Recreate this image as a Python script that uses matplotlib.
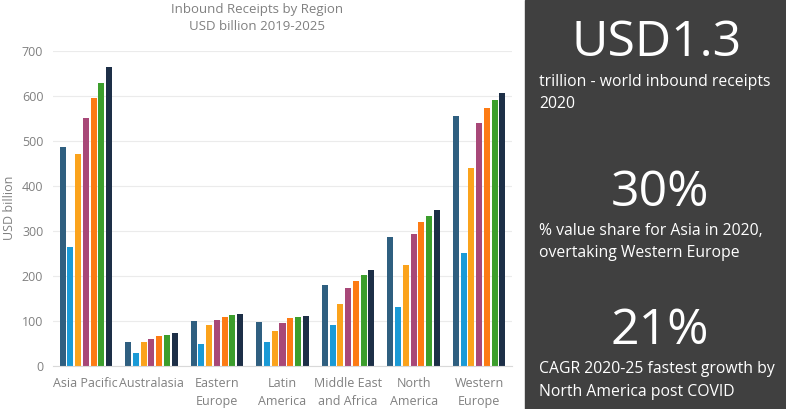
import numpy as np
import matplotlib.pyplot as plt
from matplotlib.patches import Rectangle

plt.rcParams['font.family'] = ['Open Sans', 'DejaVu Sans']

regions = ['Asia Pacific', 'Australasia', 'Eastern\nEurope', 'Latin\nAmerica',
           'Middle East\nand Africa', 'North\nAmerica', 'Western\nEurope']
years = ['2019', '2020', '2021', '2022', '2023', '2024', '2025']

v2019 = [487, 54, 101, 98, 179, 287, 556]
v2020 = [264, 30, 49, 53, 91, 131, 252]
v2021 = [471, 53, 91, 78, 137, 224, 441]
v2022 = [551, 61, 103, 96, 173, 294, 539]
v2023 = [596, 67, 109, 106, 190, 321, 573]
v2024 = [629, 69, 113, 110, 202, 334, 592]
v2025 = [664, 73, 116, 112, 213, 347, 606]
series = [v2019, v2020, v2021, v2022, v2023, v2024, v2025]

colors = ['#2f5f80', '#1a9ad6', '#fba31c', '#a84878', '#fd7b14', '#3c9e2c', '#1d2f47']

W, H = 786, 409
fig = plt.figure(figsize=(W / 100, H / 100), dpi=100)
ax = fig.add_axes([53 / W, 1 - 366 / H, (512 - 53) / W, (366 - 51) / H])

x = np.arange(len(regions))
step = 0.118
bw = 0.092
for i, vals in enumerate(series):
    ax.bar(x + (i - 3) * step, vals, width=bw, color=colors[i], label=years[i])

ax.set_xlim(-0.5, len(regions) - 0.5)
ax.set_ylim(0, 700)
ax.set_yticks(range(0, 701, 100))
ax.grid(axis='y', color='#ebebeb', linewidth=0.8)
ax.set_axisbelow(True)
for s in ['top', 'right', 'left']:
    ax.spines[s].set_visible(False)
ax.spines['bottom'].set_color('#d9d9d9')
ax.tick_params(length=0, colors='#808080', labelsize=9)
ax.tick_params(axis='y', pad=7)
ax.tick_params(axis='x', pad=8)
ax.set_xticks(x)
ax.set_xticklabels(regions, linespacing=1.45)
fig.text(10 / W, 1 - 208 / H, 'USD billion', rotation=90, ha='center', va='center',
         color='#808080', fontsize=9)

fig.text(257 / W, 1 - 9 / H, 'Inbound Receipts by Region', ha='center', va='center',
         color='#808080', fontsize=9.5)
fig.text(257 / W, 1 - 27 / H, 'USD billion 2019-2025', ha='center', va='center',
         color='#808080', fontsize=9.5)

# right-hand panel
fig.patches.append(Rectangle((525 / W, 0), (W - 525) / W, 1, transform=fig.transFigure,
                             color='#404040', zorder=0))

cx = 657 / W
lx = 539 / W
big = 36
small = 11.3
fig.text(cx, 1 - 43 / H, 'USD1.3', ha='center', va='center', color='white', fontsize=big)
fig.text(lx, 1 - 82 / H, 'trillion - world inbound receipts', ha='left', va='center',
         color='white', fontsize=small)
fig.text(lx, 1 - 104 / H, '2020', ha='left', va='center', color='white', fontsize=small)
fig.text(cx + 3 / W, 1 - 193 / H, '30%', ha='center', va='center', color='white', fontsize=big)
fig.text(lx, 1 - 231 / H, '% value share for Asia in 2020,', ha='left', va='center',
         color='white', fontsize=small)
fig.text(lx, 1 - 253 / H, 'overtaking Western Europe', ha='left', va='center',
         color='white', fontsize=small)
fig.text(cx + 3 / W, 1 - 331 / H, '21%', ha='center', va='center', color='white', fontsize=big)
fig.text(lx, 1 - 369 / H, 'CAGR 2020-25 fastest growth by', ha='left', va='center',
         color='white', fontsize=small)
fig.text(lx, 1 - 392 / H, 'North America post COVID', ha='left', va='center',
         color='white', fontsize=small)

fig.savefig('out.png', dpi=100)
